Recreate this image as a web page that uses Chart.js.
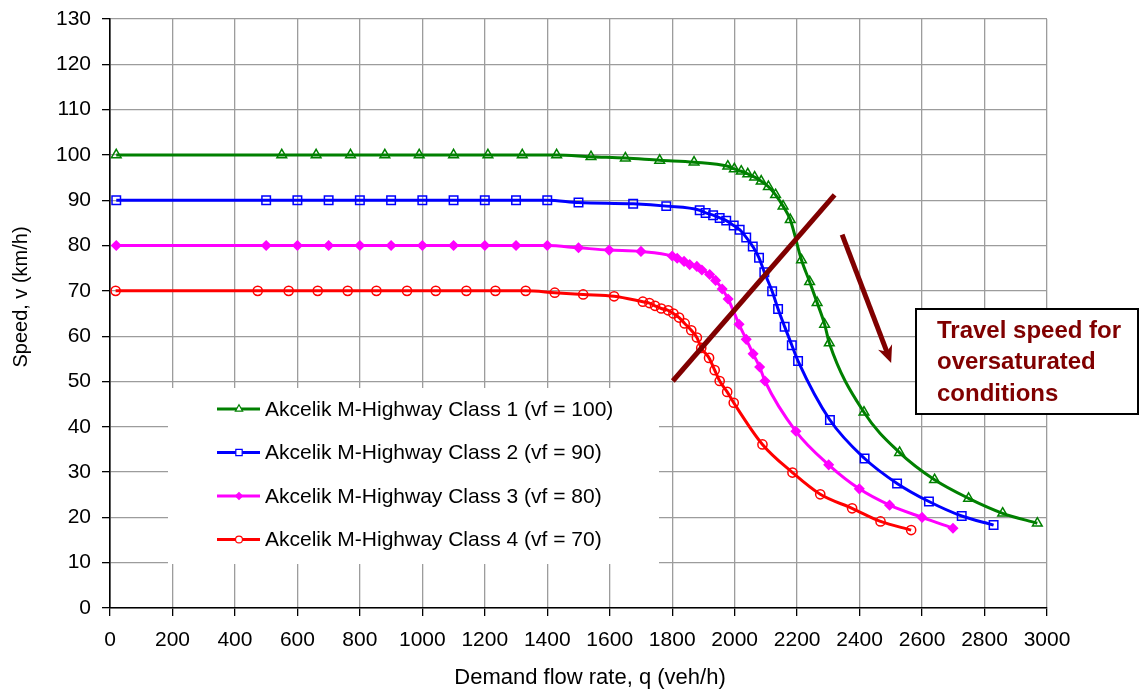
<!DOCTYPE html>
<html>
<head>
<meta charset="utf-8">
<title>Speed-flow curves</title>
<script src="https://cdn.jsdelivr.net/npm/chart.js@4.4.1/dist/chart.umd.min.js"></script>
<style>
    html, body { margin: 0; padding: 0; background: #ffffff; }
    #wrap { width: 1140px; height: 691px; position: relative; }
</style>
</head>
<body>
<div id="wrap"><canvas id="speedChart" width="1140" height="691"></canvas></div>
<script>
// Data
const class1Flow  = [20, 550, 660, 770, 880, 990, 1100, 1210, 1320, 1430, 1540, 1650, 1760, 1870, 1978, 1999, 2021, 2042, 2064, 2085, 2108, 2131, 2155, 2178, 2214, 2240, 2264, 2288, 2303, 2414, 2528, 2640, 2749, 2858, 2969];
const class1Speed = [100, 100, 100, 100, 100, 100, 100, 100, 100, 100, 99.6, 99.3, 98.8, 98.4, 97.5, 96.9, 96.4, 95.8, 95.1, 94.2, 93.0, 91.2, 88.7, 85.7, 76.8, 72.0, 67.4, 62.6, 58.5, 43.2, 34.3, 28.3, 24.2, 20.9, 18.7];

const class2Flow  = [20, 500, 600, 700, 800, 900, 1000, 1100, 1200, 1300, 1400, 1500, 1675, 1781, 1888, 1907, 1931, 1952, 1973, 1997, 2016, 2037, 2058, 2078, 2095, 2120, 2139, 2160, 2183, 2203, 2305, 2416, 2520, 2622, 2727, 2829];
const class2Speed = [90, 90, 90, 90, 90, 90, 90, 90, 90, 90, 90, 89.5, 89.2, 88.7, 87.8, 87.2, 86.7, 86.1, 85.5, 84.4, 83.5, 81.8, 79.8, 77.3, 74.1, 69.9, 66.0, 62.1, 58.0, 54.5, 41.5, 33.0, 27.5, 23.5, 20.3, 18.3];

const class3Flow  = [20, 500, 600, 700, 800, 900, 1000, 1100, 1200, 1300, 1400, 1500, 1598, 1700, 1800, 1816, 1838, 1856, 1879, 1895, 1920, 1939, 1960, 1979, 2014, 2037, 2059, 2080, 2097, 2196, 2301, 2399, 2496, 2600, 2699];
const class3Speed = [80, 80, 80, 80, 80, 80, 80, 80, 80, 80, 80, 79.5, 79.0, 78.7, 77.7, 77.2, 76.5, 75.8, 75.4, 74.6, 73.6, 72.3, 70.4, 68.2, 62.6, 59.3, 56.1, 53.2, 50.1, 39.0, 31.6, 26.3, 22.7, 20.0, 17.6];

const class4Flow  = [18, 473, 572, 665, 761, 853, 951, 1043, 1141, 1234, 1331, 1424, 1515, 1614, 1706, 1727, 1745, 1765, 1787, 1804, 1822, 1840, 1861, 1879, 1893, 1918, 1936, 1952, 1976, 1997, 2089, 2185, 2274, 2376, 2467, 2565];
const class4Speed = [70, 70, 70, 70, 70, 70, 70, 70, 70, 70, 70, 69.6, 69.2, 68.8, 67.6, 67.3, 66.7, 66.1, 65.7, 65.0, 64.1, 62.8, 61.3, 59.7, 57.4, 55.2, 52.5, 50.1, 47.7, 45.3, 36.1, 29.9, 25.1, 22.0, 19.1, 17.2];

const seriesLabels = [
    'Akcelik M-Highway Class 1 (vf = 100)',
    'Akcelik M-Highway Class 2 (vf = 90)',
    'Akcelik M-Highway Class 3 (vf = 80)',
    'Akcelik M-Highway Class 4 (vf = 70)'
];

// Annotation marks in data units (flow, speed)
const crossLineFlow  = [1802, 2320];
const crossLineSpeed = [50.1, 91.2];
const arrowFlow  = [2344, 2501];
const arrowSpeed = [82.4, 54.1];
const noteLines = ['Travel speed for', 'oversaturated', 'conditions'];

const FONT = 'Arial, "Liberation Sans", sans-serif';
const MAROON = '#800000';

function toPoints(xs, ys) {
    return xs.map((x, i) => ({ x: x, y: ys[i] }));
}

function makeSeries(label, xs, ys, color, style, radius, filled) {
    return {
        label: label,
        data: toPoints(xs, ys),
        borderColor: color,
        backgroundColor: filled ? color : 'rgba(255,255,255,0)',
        borderWidth: 3,
        pointStyle: style,
        pointRadius: radius,
        pointBorderWidth: 1.5,
        pointBorderColor: color,
        pointBackgroundColor: filled ? color : 'rgba(255,255,255,0)',
        cubicInterpolationMode: 'monotone',
        fill: false
    };
}

const datasets = [
    makeSeries(seriesLabels[0], class1Flow, class1Speed, '#008000', 'triangle', 5.6, false),
    makeSeries(seriesLabels[1], class2Flow, class2Speed, '#0000ff', 'rect', 6, false),
    makeSeries(seriesLabels[2], class3Flow, class3Speed, '#ff00ff', 'rectRot', 4.5, true),
    makeSeries(seriesLabels[3], class4Flow, class4Speed, '#ff0000', 'circle', 4.6, false)
];

// Legend box, annotation marks and axis titles
const decorPlugin = {
    id: 'decor',
    beforeDatasetsDraw(chart) {
        const ctx = chart.ctx;
        ctx.save();
        ctx.fillStyle = '#ffffff';
        ctx.fillRect(168, 388, 491, 176);
        chart.data.datasets.forEach((ds, i) => {
            const y = 409 + i * 43.5;
            ctx.strokeStyle = ds.borderColor;
            ctx.lineWidth = 3;
            ctx.beginPath();
            ctx.moveTo(217, y);
            ctx.lineTo(260, y);
            ctx.stroke();
            ctx.fillStyle = ds.pointBackgroundColor === ds.borderColor ? ds.borderColor : '#ffffff';
            ctx.lineWidth = 1.2;
            Chart.helpers.drawPoint(ctx, { pointStyle: ds.pointStyle, radius: ds.pointRadius * 0.75, rotation: 0, borderWidth: 1.2 }, 239, y);
            ctx.fillStyle = '#000000';
            ctx.font = '21px ' + FONT;
            ctx.textBaseline = 'middle';
            ctx.textAlign = 'left';
            ctx.fillText(ds.label, 265, y + 1);
        });
        ctx.restore();
    },
    afterDatasetsDraw(chart) {
        const ctx = chart.ctx;
        const xs = chart.scales.x;
        const ys = chart.scales.y;
        ctx.save();
        ctx.strokeStyle = MAROON;
        ctx.fillStyle = MAROON;
        ctx.lineWidth = 5;

        // diagonal capacity line
        ctx.beginPath();
        ctx.moveTo(xs.getPixelForValue(crossLineFlow[0]), ys.getPixelForValue(crossLineSpeed[0]));
        ctx.lineTo(xs.getPixelForValue(crossLineFlow[1]), ys.getPixelForValue(crossLineSpeed[1]));
        ctx.stroke();

        // arrow
        const ax0 = xs.getPixelForValue(arrowFlow[0]), ay0 = ys.getPixelForValue(arrowSpeed[0]);
        const ax1 = xs.getPixelForValue(arrowFlow[1]), ay1 = ys.getPixelForValue(arrowSpeed[1]);
        const ang = Math.atan2(ay1 - ay0, ax1 - ax0);
        const headLen = 17, headHalf = 7.5;
        const bx = ax1 - Math.cos(ang) * headLen, by = ay1 - Math.sin(ang) * headLen;
        ctx.beginPath();
        ctx.moveTo(ax0, ay0);
        ctx.lineTo(ax1 - Math.cos(ang) * 10, ay1 - Math.sin(ang) * 10);
        ctx.stroke();
        ctx.beginPath();
        ctx.moveTo(ax1, ay1);
        ctx.lineTo(bx + Math.sin(ang) * headHalf, by - Math.cos(ang) * headHalf);
        ctx.lineTo(ax1 - Math.cos(ang) * 12, ay1 - Math.sin(ang) * 12);
        ctx.lineTo(bx - Math.sin(ang) * headHalf, by + Math.cos(ang) * headHalf);
        ctx.closePath();
        ctx.fill();

        // note box
        ctx.fillStyle = '#ffffff';
        ctx.fillRect(916, 309, 222, 105);
        ctx.strokeStyle = '#000000';
        ctx.lineWidth = 2;
        ctx.strokeRect(916, 309, 222, 105);
        ctx.fillStyle = MAROON;
        ctx.font = 'bold 24px ' + FONT;
        ctx.textAlign = 'left';
        ctx.textBaseline = 'middle';
        noteLines.forEach((t, i) => ctx.fillText(t, 937, 331 + i * 31.5));
        ctx.restore();
    },
    afterDraw(chart) {
        const ctx = chart.ctx;
        ctx.save();
        ctx.fillStyle = '#000000';
        ctx.textAlign = 'center';
        ctx.textBaseline = 'middle';
        ctx.font = '22px ' + FONT;
        ctx.fillText('Demand flow rate, q (veh/h)', 590, 678);
        ctx.font = '20px ' + FONT;
        ctx.translate(21, 297);
        ctx.rotate(-Math.PI / 2);
        ctx.fillText('Speed, v (km/h)', 0, 0);
        ctx.restore();
    }
};

const ctx = document.getElementById('speedChart').getContext('2d');

const speedChart = new Chart(ctx, {
    type: 'line',
    data: { datasets: datasets },
    options: {
        responsive: false,
        maintainAspectRatio: false,
        devicePixelRatio: 1,
        animation: false,
        layout: {
            padding: { top: 19, right: 93, bottom: 0, left: 0 }
        },
        plugins: {
            legend: { display: false },
            tooltip: { enabled: false }
        },
        scales: {
            x: {
                type: 'linear',
                min: 0,
                max: 3000,
                ticks: {
                    stepSize: 200,
                    color: '#000000',
                    font: { family: FONT, size: 21 },
                    padding: 12,
                    maxRotation: 0,
                    callback: function(value) { return String(value); }
                },
                grid: {
                    color: '#9c9c9c',
                    lineWidth: 1.3,
                    tickColor: '#000000',
                    tickLength: 8,
                    tickWidth: 1.3
                },
                border: { display: true, color: '#000000', width: 1.6 },
                afterFit: function(scale) {
                    scale.height = 83;
                    scale.paddingLeft = 0;
                    scale.paddingRight = 0;
                }
            },
            y: {
                type: 'linear',
                min: 0,
                max: 130,
                ticks: {
                    stepSize: 10,
                    color: '#000000',
                    font: { family: FONT, size: 21 },
                    padding: 11,
                    callback: function(value) { return String(value); }
                },
                grid: {
                    color: '#9c9c9c',
                    lineWidth: 1.3,
                    tickColor: '#000000',
                    tickLength: 8,
                    tickWidth: 1.3
                },
                border: { display: true, color: '#000000', width: 1.6 },
                afterFit: function(scale) {
                    scale.width = 110;
                    scale.paddingTop = 0;
                    scale.paddingBottom = 0;
                }
            }
        }
    },
    plugins: [decorPlugin]
});
</script>
</body>
</html>
